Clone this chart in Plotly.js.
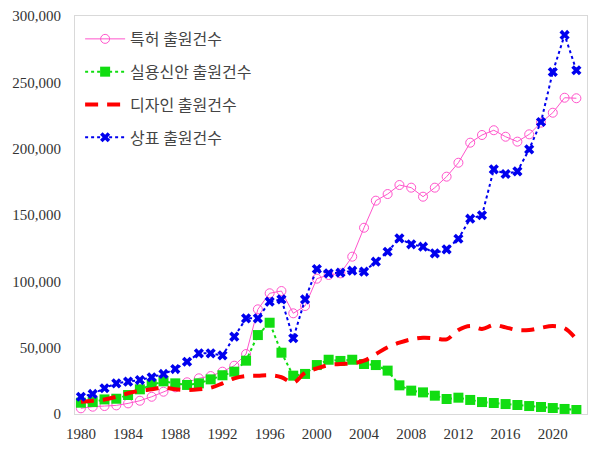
<!DOCTYPE html>
<html>
<head>
<meta charset="utf-8">
<script src="https://cdn.plot.ly/plotly-3.0.1.min.js"></script>
<style>
html,body{margin:0;padding:0;background:#fff;}
#chart{width:612px;height:451px;}
</style>
</head>
<body>
<div id="chart"></div>
<script>
const years = [];
for (let y = 1980; y <= 2022; y++) years.push(y);

const patents = [4300, 5500, 6000, 6500, 8000, 10000, 13000, 16800, 20100, 23900,
  26900, 28600, 31900, 36400, 45200, 78900, 91000, 92700, 75900, 81400,
  102000, 104800, 106000, 118600, 140400, 160800, 165800, 172600, 170600, 163800,
  170600, 178900, 189400, 204500, 210300, 213900, 209000, 205300, 210800, 219600,
  227100, 238400, 238000];

const utility = [8500, 9000, 11000, 11500, 14300, 18600, 21900, 24600, 23100, 21900,
  23100, 26100, 29200, 31900, 40200, 59500, 68800, 46200, 28900, 30200,
  36900, 40900, 40000, 40900, 37700, 36900, 32700, 21600, 17600, 16300,
  13800, 11300, 12300, 10600, 9000, 8300, 7500, 6800, 6000, 5300,
  4500, 3800, 3000];

const designs = [9300, 10000, 11000, 13000, 15600, 17500, 18600, 20000, 18600, 18100,
  18600, 19800, 23100, 26900, 28600, 28900, 29200, 27700, 23600, 31100,
  34400, 36900, 37700, 38200, 40200, 45200, 50300, 53800, 56300, 57500,
  57100, 56300, 63300, 66300, 64100, 67100, 65300, 63300, 63300, 65000,
  66300, 64600, 56300];

const trademarks = [13000, 15100, 19400, 23100, 24400, 25600, 27700, 30200, 33900, 39400,
  45700, 45700, 44200, 58300, 72100, 72100, 84700, 86400, 57100, 86400,
  109300, 106000, 106500, 108000, 107300, 114800, 122300, 132400, 127900, 126100,
  121100, 124100, 132100, 147200, 149800, 184400, 180900, 182900, 199500, 220100,
  257800, 285700, 259100];

const seriesNames = ['특허 출원건수', '실용신안 출원건수', '디자인 출원건수', '상표 출원건수'];
const xTicks = [1980, 1984, 1988, 1992, 1996, 2000, 2004, 2008, 2012, 2016, 2020];
const yTicks = [0, 50000, 100000, 150000, 200000, 250000, 300000];
const yTickText = ['0', '50,000', '100,000', '150,000', '200,000', '250,000', '300,000'];

const serifFont = 'Liberation Serif';

const traces = [
  {
    x: years, y: patents, name: seriesNames[0], type: 'scatter', mode: 'lines+markers',
    line: {color: '#ff55cc', width: 1},
    marker: {symbol: 'circle-open', size: 9, color: '#ff55cc', line: {width: 1, color: '#ff55cc'}},
    legendgroup: 'a'
  },
  {
    x: years, y: utility, name: seriesNames[1], type: 'scatter', mode: 'lines+markers',
    line: {color: '#11dd11', width: 2, dash: 'dot'},
    marker: {symbol: 'square', size: 10, color: '#11dd11'},
    legendgroup: 'b'
  },
  {
    x: years, y: designs, name: seriesNames[2], type: 'scatter', mode: 'lines',
    line: {color: '#ff0000', width: 4, dash: '13px,9px', shape: 'spline', smoothing: 1},
    legendgroup: 'c'
  },
  {
    x: years, y: trademarks, name: seriesNames[3], type: 'scatter', mode: 'lines+markers',
    line: {color: '#0000ee', width: 2, dash: 'dot'},
    marker: {symbol: 'x', size: 9, color: '#0000ee', line: {width: 0}},
    legendgroup: 'd'
  }
];

const layout = {
  width: 612, height: 451,
  margin: {l: 75, r: 25, t: 16, b: 37},
  paper_bgcolor: '#ffffff', plot_bgcolor: '#ffffff',
  showlegend: true,
  legend: {
    x: 0.01, y: 0.985, xanchor: 'left', yanchor: 'top',
    bgcolor: 'rgba(255,255,255,0)',
    font: {family: 'Noto Sans CJK KR', size: 16, color: '#444444'},
    tracegroupgap: 9,
    itemwidth: 40
  },
  xaxis: {
    range: [1979.5, 2022.9],
    tickvals: xTicks, ticktext: xTicks.map(String),
    showgrid: false, zeroline: false,
    showline: true, linecolor: '#d9d9d9', linewidth: 1, mirror: true,
    ticks: 'outside', ticklen: 6, tickcolor: 'rgba(0,0,0,0)',
    tickfont: {family: serifFont, size: 15, color: '#333333'}
  },
  yaxis: {
    range: [0, 300000],
    tickvals: yTicks, ticktext: yTickText,
    showgrid: false, zeroline: false,
    showline: true, linecolor: '#d9d9d9', linewidth: 1, mirror: true,
    ticks: 'outside', ticklen: 10, tickcolor: 'rgba(0,0,0,0)',
    tickfont: {family: serifFont, size: 15, color: '#333333'}
  }
};

Plotly.newPlot('chart', traces, layout, {displayModeBar: false, staticPlot: true});
</script>
</body>
</html>
